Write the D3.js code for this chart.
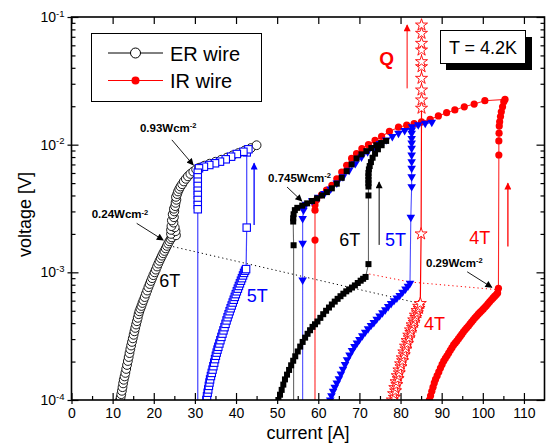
<!DOCTYPE html>
<html><head><meta charset="utf-8">
<script src="https://cdn.jsdelivr.net/npm/d3@7"></script>
<style>body{margin:0;background:#fff}svg{display:block;font-family:"Liberation Sans",Arial,Helvetica,sans-serif}</style>
</head><body><svg id="c" width="552" height="446"></svg>
<script>
// ---------- data ----------
const xTicks=[0,10,20,30,40,50,60,70,80,90,100,110];
const xMinorTicks=[5,15,25,35,45,55,65,75,85,95,105];
const yTicks=[1e-4,1e-3,1e-2,1e-1];
const yTickExp=["-4","-3","-2","-1"];

// ER wire, 6T (open circles)
const er6T=[[11.8,1.0e-4],[11.95,1.05e-4],[12.1,1.11e-4],[12.25,1.18e-4],[12.4,1.26e-4],[12.55,1.35e-4],[12.7,1.44e-4],[12.9,1.53e-4],[13.1,1.63e-4],[13.3,1.75e-4],[13.5,1.88e-4],[13.7,2.02e-4],[13.9,2.17e-4],[14.1,2.33e-4],[14.3,2.5e-4],[14.5,2.67e-4],[14.7,2.85e-4],[14.9,3.04e-4],[15.1,3.24e-4],[15.3,3.45e-4],[15.5,3.67e-4],[15.7,3.9e-4],[15.9,4.14e-4],[16.1,4.4e-4],[16.3,4.7e-4],[16.5,4.95e-4],[16.75,5.2e-4],[17.0,5.45e-4],[17.25,5.75e-4],[17.5,6.05e-4],[17.8,6.4e-4],[18.1,6.8e-4],[18.4,7.2e-4],[18.7,7.65e-4],[19.0,8.1e-4],[19.3,8.55e-4],[19.6,9.0e-4],[19.9,9.5e-4],[20.2,1.0e-3],[20.5,1.05e-3],[20.8,1.11e-3],[21.1,1.17e-3],[21.4,1.23e-3],[21.7,1.29e-3],[22.0,1.35e-3],[22.3,1.41e-3],[22.6,1.47e-3],[22.9,1.54e-3],[23.2,1.61e-3],[23.5,1.68e-3],[23.8,1.75e-3],[24.1,1.82e-3],[24.4,1.88e-3],[25.4,1.95e-3],[24.2,2.0e-3],[25.3,2.1e-3],[24.2,2.15e-3],[25.1,2.25e-3],[24.3,2.3e-3],[24.8,2.45e-3],[24.4,2.55e-3],[24.9,2.7e-3],[24.6,2.85e-3],[25.0,3.0e-3],[24.9,3.15e-3],[25.2,3.3e-3],[25.3,3.5e-3],[25.5,3.7e-3],[25.4,3.9e-3],[25.7,4.1e-3],[25.9,4.3e-3],[26.2,4.5e-3],[26.5,4.7e-3],[26.9,4.9e-3],[27.3,5.15e-3],[27.8,5.4e-3],[28.3,5.65e-3],[28.9,5.9e-3],[29.6,6.15e-3],[30.3,6.4e-3],[31.0,6.6e-3],[32.3,6.85e-3],[33.6,7.1e-3],[35.0,7.35e-3],[36.4,7.62e-3],[37.8,7.92e-3],[39.2,8.25e-3],[40.6,8.6e-3],[42.1,9.0e-3],[43.6,9.4e-3],[45.0,9.9e-3]];

// ER wire, 5T (open squares)
const er5T=[[32.8,1.0e-4],[32.95,1.07e-4],[33.1,1.14e-4],[33.25,1.21e-4],[33.4,1.29e-4],[33.55,1.37e-4],[33.7,1.45e-4],[33.9,1.54e-4],[34.1,1.63e-4],[34.3,1.73e-4],[34.5,1.84e-4],[34.7,1.96e-4],[34.9,2.09e-4],[35.1,2.22e-4],[35.3,2.35e-4],[35.5,2.48e-4],[35.7,2.61e-4],[35.95,2.77e-4],[36.2,2.94e-4],[36.45,3.12e-4],[36.7,3.31e-4],[36.95,3.51e-4],[37.2,3.72e-4],[37.45,3.95e-4],[37.7,4.2e-4],[37.95,4.45e-4],[38.2,4.7e-4],[38.45,4.96e-4],[38.7,5.23e-4],[38.95,5.5e-4],[39.2,5.8e-4],[39.45,6.1e-4],[39.7,6.42e-4],[39.95,6.75e-4],[40.2,7.1e-4],[40.45,7.45e-4],[40.7,7.82e-4],[40.95,8.2e-4],[41.2,8.6e-4],[41.45,9.0e-4],[41.7,9.45e-4],[41.95,9.9e-4],[42.2,1.03e-3],[42.45,1.06e-3],[42.6,2.24e-3],[42.6,8.7e-3],[43.0,9.2e-3],[41.8,8.8e-3],[40.2,8.45e-3],[38.8,8.05e-3],[37.5,7.68e-3],[36.1,7.36e-3],[34.9,7.15e-3],[33.5,6.93e-3],[32.2,6.72e-3],[31.0,6.53e-3],[30.7,6.03e-3],[30.7,5.55e-3],[30.7,5.13e-3],[30.7,4.75e-3],[30.7,4.36e-3],[30.7,4.04e-3],[30.7,3.69e-3],[30.7,3.37e-3],[30.7,3.12e-3]];

// ER wire, 4T (open stars) - ramp and quench (Q)
const er4T=[[78.0,1.0e-4],[78.5,1.05e-4],[78.3,1.12e-4],[78.8,1.18e-4],[78.6,1.25e-4],[79.1,1.32e-4],[78.9,1.39e-4],[79.4,1.47e-4],[79.2,1.55e-4],[79.7,1.63e-4],[79.6,1.72e-4],[80.1,1.82e-4],[80.0,1.92e-4],[80.5,2.03e-4],[80.4,2.14e-4],[80.9,2.26e-4],[80.8,2.38e-4],[81.3,2.51e-4],[81.2,2.64e-4],[81.7,2.78e-4],[81.6,2.92e-4],[82.1,3.07e-4],[82.0,3.22e-4],[82.5,3.38e-4],[82.4,3.54e-4],[82.9,3.71e-4],[82.8,3.88e-4],[83.3,4.06e-4],[83.2,4.24e-4],[83.7,4.43e-4],[83.6,4.62e-4],[84.1,4.82e-4],[84.0,5.02e-4],[84.5,5.22e-4],[84.4,5.42e-4],[84.8,5.7e-4],[85.0,2.0e-3]];
const er4TQuench=[[85.1,1.93e-2],[85.1,2.24e-2],[85.1,2.68e-2],[85.1,3.31e-2],[85.1,4.08e-2],[85.1,4.47e-2],[85.1,5.51e-2],[85.1,6.22e-2],[85.1,7.45e-2],[85.1,8.65e-2]];

// IR wire, 6T (filled squares)
const ir6T=[[50.3,1.0e-4],[50.7,1.1e-4],[51.1,1.2e-4],[51.5,1.32e-4],[51.9,1.45e-4],[52.4,1.58e-4],[52.9,1.72e-4],[53.4,1.87e-4],[53.9,2.03e-4],[54.4,2.2e-4],[55.0,2.4e-4],[55.6,2.62e-4],[56.2,2.85e-4],[56.8,3.08e-4],[57.4,3.3e-4],[58.0,3.52e-4],[58.6,3.74e-4],[59.2,3.92e-4],[59.8,4.12e-4],[60.5,4.4e-4],[61.2,4.7e-4],[61.9,5.0e-4],[62.6,5.3e-4],[63.3,5.6e-4],[64.0,5.9e-4],[64.7,6.2e-4],[65.4,6.5e-4],[66.1,6.8e-4],[66.8,7.1e-4],[67.5,7.35e-4],[68.2,7.6e-4],[68.9,7.9e-4],[69.6,8.25e-4],[70.3,8.6e-4],[70.9,8.9e-4],[71.5,9.2e-4],[72.2,1.16e-3],[72.2,4.0e-3],[72.2,4.7e-3],[72.2,5.0e-3],[72.2,5.3e-3],[72.2,5.65e-3],[72.2,6.0e-3],[72.3,6.4e-3],[72.5,6.8e-3],[72.8,7.3e-3],[73.2,7.9e-3],[73.8,8.5e-3],[74.5,9.2e-3],[75.4,9.9e-3],[76.5,1.07e-2],[75.3,1.03e-2],[74.1,9.9e-3],[72.9,9.4e-3],[71.7,8.9e-3],[70.5,8.4e-3],[69.3,7.8e-3],[68.1,7.0e-3],[66.9,6.2e-3],[65.7,5.5e-3],[64.5,4.95e-3],[63.3,4.55e-3],[62.1,4.25e-3],[60.9,4.0e-3],[59.7,3.8e-3],[58.5,3.62e-3],[57.3,3.47e-3],[56.1,3.33e-3],[54.9,3.2e-3],[54.3,3.07e-3],[54.0,2.85e-3],[53.9,2.65e-3],[53.9,2.5e-3],[54.0,1.63e-3]];

// IR wire, 5T (filled down triangles)
const ir5T=[[62.9,1.0e-4],[63.2,1.08e-4],[63.6,1.17e-4],[64.0,1.26e-4],[64.5,1.36e-4],[65.0,1.47e-4],[65.5,1.6e-4],[66.0,1.74e-4],[66.5,1.9e-4],[67.0,2.07e-4],[67.6,2.25e-4],[68.2,2.44e-4],[68.8,2.62e-4],[69.4,2.8e-4],[70.0,2.98e-4],[70.7,3.18e-4],[71.4,3.4e-4],[72.1,3.62e-4],[72.8,3.84e-4],[73.5,4.05e-4],[74.2,4.3e-4],[74.9,4.56e-4],[75.6,4.83e-4],[76.3,5.1e-4],[77.0,5.4e-4],[77.7,5.7e-4],[78.4,6.0e-4],[79.1,6.3e-4],[79.8,6.6e-4],[80.5,7.0e-4],[81.2,7.4e-4],[81.8,7.8e-4],[82.3,8.2e-4],[82.5,2.7e-3],[82.7,4.69e-3],[82.7,5.61e-3],[82.7,6.53e-3],[82.7,7.36e-3],[82.7,8.3e-3],[82.7,9.36e-3],[82.7,1.03e-2],[82.7,1.12e-2],[82.7,1.23e-2],[82.7,1.3e-2],[82.8,1.38e-2],[84.3,1.43e-2],[86.0,1.47e-2],[87.6,1.5e-2],[81.0,1.29e-2],[79.5,1.23e-2],[78.0,1.16e-2],[76.5,1.09e-2],[75.0,1.02e-2],[73.5,9.5e-3],[72.0,8.8e-3],[70.5,8.0e-3],[69.0,7.1e-3],[67.5,6.3e-3],[66.0,5.6e-3],[64.5,5.0e-3],[63.0,4.5e-3],[61.5,4.15e-3],[60.0,3.88e-3],[58.5,3.64e-3],[57.0,3.42e-3],[56.4,3.07e-3],[56.2,2.64e-3],[56.2,1.69e-3],[56.2,8.7e-4]];

// IR wire, 4T (filled circles)
const ir4T=[[87.0,1.0e-4],[87.3,1.08e-4],[87.6,1.17e-4],[87.9,1.26e-4],[88.2,1.36e-4],[88.5,1.45e-4],[88.9,1.55e-4],[89.3,1.66e-4],[89.7,1.78e-4],[90.1,1.9e-4],[90.5,2.02e-4],[90.9,2.12e-4],[91.3,2.22e-4],[91.7,2.33e-4],[92.1,2.45e-4],[92.5,2.57e-4],[92.9,2.7e-4],[93.3,2.8e-4],[93.7,2.9e-4],[94.1,3.02e-4],[94.5,3.15e-4],[94.9,3.28e-4],[95.3,3.42e-4],[95.7,3.55e-4],[96.1,3.68e-4],[96.5,3.8e-4],[96.9,3.95e-4],[97.3,4.1e-4],[97.7,4.25e-4],[98.1,4.4e-4],[98.5,4.55e-4],[98.9,4.7e-4],[99.3,4.85e-4],[99.7,5.0e-4],[100.1,5.15e-4],[100.5,5.32e-4],[100.9,5.5e-4],[101.3,5.7e-4],[101.7,5.9e-4],[102.1,6.1e-4],[102.5,6.3e-4],[102.9,6.5e-4],[103.3,6.7e-4],[103.6,6.9e-4],[103.8,7.5e-4],[103.9,8.3e-3],[103.9,1.07e-2],[103.95,1.23e-2],[104.0,1.4e-2],[104.1,1.51e-2],[104.3,1.66e-2],[104.5,1.81e-2],[104.8,1.98e-2],[105.1,2.17e-2],[105.4,2.26e-2],[100.5,2.21e-2],[97.9,2.08e-2],[95.5,1.98e-2],[93.2,1.87e-2],[91.2,1.78e-2],[89.2,1.68e-2],[87.2,1.58e-2],[85.1,1.51e-2],[83.3,1.46e-2],[81.5,1.42e-2],[79.5,1.37e-2],[77.3,1.27e-2],[75.4,1.16e-2],[73.8,1.08e-2],[72.2,1.0e-2],[70.6,9.3e-3],[69.3,8.5e-3],[68.1,7.8e-3],[66.9,6.9e-3],[65.7,6.1e-3],[64.5,5.4e-3],[63.3,4.8e-3],[62.0,4.4e-3],[60.8,4.05e-3],[59.6,3.7e-3],[59.2,3.37e-3],[59.2,3.07e-3],[59.2,1.79e-3]];

// critical points joined by dotted lines
const erCritI=[24.7,84.7], erCritV=[1.59e-3,5.7e-4];
const irCritI=[72.4,82.3,103.8], irCritV=[9.7e-4,8.4e-4,7.3e-4];

// ---------- chart ----------
const svg=d3.select("#c");
const L=71.5,R=544.5,T=17,B=400;
const x=d3.scaleLinear().domain([0,115]).range([L,R]);
const y=d3.scaleLog().domain([1e-4,1e-1]).range([B,T]);
const FONT='"Liberation Sans",Arial,Helvetica,sans-serif';
const BLUE="#0000ff", RED="#ff0000";

const defs=svg.append("defs");
defs.append("clipPath").attr("id","clip").append("rect").attr("x",L).attr("y",T).attr("width",R-L).attr("height",B-T);
[["k","#000"],["b",BLUE],["r",RED]].forEach(([id,c])=>{
  defs.append("marker").attr("id","ah-"+id).attr("viewBox","0 0 10 10").attr("refX",9).attr("refY",5)
    .attr("markerWidth",9).attr("markerHeight",7).attr("markerUnits","userSpaceOnUse").attr("orient","auto")
    .append("path").attr("d","M0,0 L10,5 L0,10 z").attr("fill",c);
});

const plot=svg.append("g").attr("clip-path","url(#clip)");
const line=d3.line().x(d=>x(d[0])).y(d=>y(d[1]));
const withDrop=s=>s.concat([[s[s.length-1][0],1e-5]]);

// dotted lines
plot.append("path").attr("d",line(erCritI.map((v,i)=>[v,erCritV[i]]))).attr("fill","none").attr("stroke","#000").attr("stroke-width",1).attr("stroke-dasharray","1.2,3");
plot.append("path").attr("d",line(irCritI.map((v,i)=>[v,irCritV[i]]))).attr("fill","none").attr("stroke",RED).attr("stroke-width",1).attr("stroke-dasharray","1.2,3");

// lines
plot.append("path").attr("d",line(er6T)).attr("fill","none").attr("stroke","#000").attr("stroke-width",0.8);
plot.append("path").attr("d",line(withDrop(er5T))).attr("fill","none").attr("stroke",BLUE).attr("stroke-opacity",0.75).attr("stroke-width",1.2);
plot.append("path").attr("d",line(er4T.concat([er4TQuench[0]]))).attr("fill","none").attr("stroke",RED).attr("stroke-width",1.2);
plot.append("path").attr("d",line(er4TQuench)).attr("fill","none").attr("stroke",RED).attr("stroke-width",1).attr("stroke-dasharray","2,2");
plot.append("path").attr("d",line(withDrop(ir4T))).attr("fill","none").attr("stroke",RED).attr("stroke-opacity",0.85).attr("stroke-width",1.1);
plot.append("path").attr("d",line(withDrop(ir5T))).attr("fill","none").attr("stroke",BLUE).attr("stroke-opacity",0.7).attr("stroke-width",1.1);
plot.append("path").attr("d",line(withDrop(ir6T))).attr("fill","none").attr("stroke","#000").attr("stroke-opacity",0.6).attr("stroke-width",1.1);

// markers
plot.append("g").selectAll("circle").data(er6T).join("circle")
  .attr("cx",d=>x(d[0])).attr("cy",d=>y(d[1])).attr("r",4.4).attr("fill","#fff").attr("stroke","#000").attr("stroke-width",0.9);
plot.append("g").selectAll("rect").data(er5T).join("rect")
  .attr("x",d=>x(d[0])-3.7).attr("y",d=>y(d[1])-3.7).attr("width",7.4).attr("height",7.4).attr("fill","#fff").attr("stroke",BLUE).attr("stroke-width",1.1);
const star=d3.symbol(d3.symbolStar,45);
plot.append("g").selectAll("path").data(er4T.concat(er4TQuench)).join("path")
  .attr("d",star).attr("transform",d=>`translate(${x(d[0])},${y(d[1])})`).attr("fill","#fff").attr("stroke",RED).attr("stroke-width",0.9);
plot.append("g").selectAll("circle").data(ir4T).join("circle")
  .attr("cx",d=>x(d[0])).attr("cy",d=>y(d[1])).attr("r",3.6).attr("fill",RED);
const tri=d3.symbol(d3.symbolTriangle,32);
plot.append("g").selectAll("path").data(ir5T).join("path")
  .attr("d",tri).attr("transform",d=>`translate(${x(d[0])},${y(d[1])}) rotate(180)`).attr("fill",BLUE);
plot.append("g").selectAll("rect").data(ir6T).join("rect")
  .attr("x",d=>x(d[0])-3).attr("y",d=>y(d[1])-3).attr("width",6).attr("height",6).attr("fill","#000");

// vertical arrows (current sweep direction)
const arrows=[
  {i:44.4,v0:2.35e-3,v1:7.15e-3,c:BLUE,m:"b",w:1.3},
  {i:74.8,v0:1.64e-3,v1:5.1e-3,c:"#000",m:"k",w:1},
  {i:106.1,v0:1.59e-3,v1:4.98e-3,c:RED,m:"r",w:1.3},
  {i:81.6,v0:2.76e-2,v1:8.65e-2,c:RED,m:"r",w:1}
];
arrows.forEach(a=>{
  svg.append("line").attr("x1",x(a.i)).attr("x2",x(a.i)).attr("y1",y(a.v0)).attr("y2",y(a.v1))
    .attr("stroke",a.c).attr("stroke-width",a.w).attr("marker-end",`url(#ah-${a.m})`);
});

// annotation arrows
const notes=[
  {t:"0.93Wcm",ti:16.65,tv:1.26e-2,i0:24.4,v0:1.09e-2,i1:29.6,v1:6.93e-3},
  {t:"0.24Wcm",ti:4.9,tv:2.65e-3,i0:15.85,v0:2.42e-3,i1:22.3,v1:1.79e-3},
  {t:"0.745Wcm",ti:47.8,tv:5.13e-3,i0:52.4,v0:4.66e-3,i1:56.0,v1:3.62e-3},
  {t:"0.29Wcm",ti:86.2,tv:1.11e-3,i0:96.2,v0:1.01e-3,i1:102.2,v1:7.63e-4}
];
notes.forEach(n=>{
  svg.append("line").attr("x1",x(n.i0)).attr("y1",y(n.v0)).attr("x2",x(n.i1)).attr("y2",y(n.v1))
    .attr("stroke","#000").attr("stroke-width",0.9).attr("marker-end","url(#ah-k)");
  const t=svg.append("text").attr("x",x(n.ti)).attr("y",y(n.tv)).attr("font-family",FONT)
    .attr("font-size","11.5px").attr("font-weight","bold").attr("fill","#000").text(n.t);
  t.append("tspan").attr("dy","-0.5em").attr("font-size","7.5px").text("-2");
});

// field labels
const labels=[
  {t:"6T",i:21.35,v:7.67e-4,c:"#000"},
  {t:"5T",i:42.6,v:5.89e-4,c:BLUE},
  {t:"6T",i:65.1,v:1.62e-3,c:"#000"},
  {t:"5T",i:76.2,v:1.62e-3,c:BLUE},
  {t:"4T",i:96.7,v:1.67e-3,c:RED},
  {t:"4T",i:85.7,v:3.53e-4,c:RED}
];
svg.append("g").selectAll("text").data(labels).join("text")
  .attr("x",d=>x(d.i)).attr("y",d=>y(d.v)).attr("font-family",FONT).attr("font-size","18px")
  .attr("fill",d=>d.c).text(d=>d.t);
svg.append("text").attr("x",x(74.8)).attr("y",y(4.2e-2)).attr("font-family",FONT).attr("font-size","19px")
  .attr("font-weight","bold").attr("fill",RED).text("Q");

// ---------- axes ----------
const styleAxis=g=>{g.select(".domain").remove();g.selectAll("line").attr("stroke","#000").attr("stroke-width",1.2);
  g.selectAll("text").attr("font-family",FONT).attr("font-size","14px").attr("fill","#000");};
svg.append("g").attr("transform",`translate(0,${B})`).call(d3.axisBottom(x).tickValues(xTicks).tickSize(-7).tickPadding(8)).call(styleAxis);
svg.append("g").attr("transform",`translate(0,${B})`).call(d3.axisBottom(x).tickValues(xTicks).tickSize(4).tickFormat("")).call(styleAxis);
svg.append("g").attr("transform",`translate(0,${B})`).call(d3.axisBottom(x).tickValues(xMinorTicks).tickSize(-4).tickFormat("")).call(styleAxis);
svg.append("g").attr("transform",`translate(0,${T})`).call(d3.axisTop(x).tickValues(xTicks).tickSize(-7).tickFormat("")).call(styleAxis);

const yMinor=[];
yTicks.slice(0,3).forEach(p=>[2,3,4,5,6,7,8,9].forEach(k=>yMinor.push(k*p)));
const gl=svg.append("g").attr("transform",`translate(${L},0)`).call(d3.axisLeft(y).tickValues(yTicks).tickSize(-7).tickPadding(7)).call(styleAxis);
gl.selectAll(".tick text").each(function(d,i){
  const t=d3.select(this); t.text("10");
  t.append("tspan").attr("dy","-0.55em").attr("font-size","9.5px").text(yTickExp[i]);
});
svg.append("g").attr("transform",`translate(${L},0)`).call(d3.axisLeft(y).tickValues(yTicks).tickSize(4).tickFormat("")).call(styleAxis);
svg.append("g").attr("transform",`translate(${L},0)`).call(d3.axisLeft(y).tickValues(yMinor).tickSize(-4).tickFormat("")).call(styleAxis);
svg.append("g").attr("transform",`translate(${R},0)`).call(d3.axisRight(y).tickValues(yTicks).tickSize(-8).tickFormat("")).call(styleAxis);
svg.append("g").attr("transform",`translate(${R},0)`).call(d3.axisRight(y).tickValues(yMinor).tickSize(-4).tickFormat("")).call(styleAxis);

svg.append("rect").attr("x",L).attr("y",T).attr("width",R-L).attr("height",B-T).attr("fill","none").attr("stroke","#000").attr("stroke-width",1.6);

svg.append("text").attr("x",(L+R)/2).attr("y",439).attr("text-anchor","middle").attr("font-family",FONT).attr("font-size","18px").text("current [A]");
svg.append("text").attr("transform",`translate(31,${(T+B)/2+6}) rotate(-90)`).attr("text-anchor","middle").attr("font-family",FONT).attr("font-size","18px").text("voltage [V]");

// ---------- legend ----------
const lg=svg.append("g");
lg.append("rect").attr("x",91.5).attr("y",33.5).attr("width",170).attr("height",68).attr("fill","#fff").attr("stroke","#000").attr("stroke-width",1);
lg.append("line").attr("x1",108).attr("x2",163).attr("y1",53).attr("y2",53).attr("stroke","#000").attr("stroke-width",1);
lg.append("circle").attr("cx",135.5).attr("cy",53).attr("r",5).attr("fill","#fff").attr("stroke","#000").attr("stroke-width",1);
lg.append("text").attr("x",170).attr("y",60.5).attr("font-family",FONT).attr("font-size","20px").text("ER wire");
lg.append("line").attr("x1",108).attr("x2",163).attr("y1",80.5).attr("y2",80.5).attr("stroke",RED).attr("stroke-width",1);
lg.append("circle").attr("cx",135.5).attr("cy",80.5).attr("r",4).attr("fill",RED);
lg.append("text").attr("x",170).attr("y",88).attr("font-family",FONT).attr("font-size","20px").text("IR wire");

// temperature box
const tb=svg.append("g");
tb.append("rect").attr("x",446).attr("y",37).attr("width",86).attr("height",33).attr("fill","#000");
tb.append("rect").attr("x",440.5).attr("y",30.5).attr("width",85).attr("height",33).attr("fill","#fff").attr("stroke","#000").attr("stroke-width",1);
tb.append("text").attr("x",483).attr("y",53.5).attr("text-anchor","middle").attr("font-family",FONT).attr("font-size","18px").text("T = 4.2K");
</script></body></html>
